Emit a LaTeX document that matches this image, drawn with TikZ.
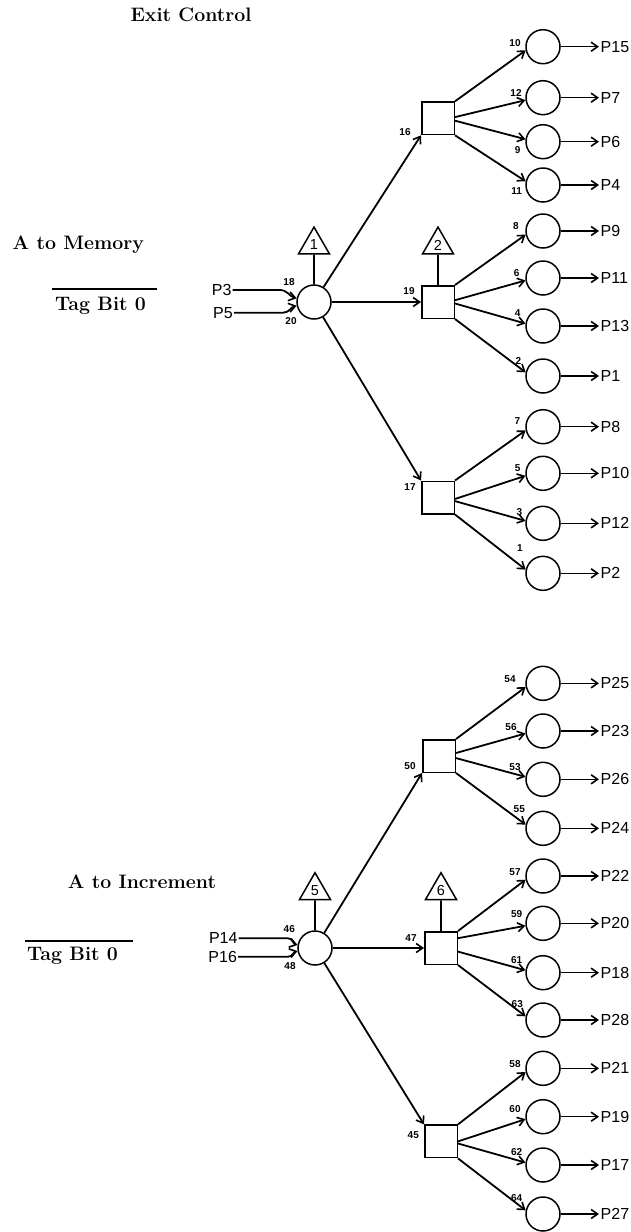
\documentclass[tikz,border=0pt]{standalone}
\usepackage{fontspec}
\newfontfamily\labfont{Liberation Sans}
\usetikzlibrary{arrows.meta,shapes.geometric,calc}
\tikzset{
 circ/.style={circle, draw, line width=1.5pt, minimum size=34pt, inner sep=0pt},
 sq/.style={rectangle, draw, line width=1.5pt, minimum size=32.5pt, inner sep=0pt},
 tri/.style={regular polygon, regular polygon sides=3, draw, line width=1.5pt, minimum size=35.8pt, inner sep=0pt, font=\labfont\fontsize{14.5}{14.5}\selectfont},
 plab/.style={font=\labfont\fontsize{16}{16}\selectfont, inner sep=1.5pt, anchor=west},
 inlab/.style={font=\labfont\fontsize{16}{16}\selectfont, inner sep=1pt},
 num/.style={font=\labfont\bfseries\fontsize{10}{10}\selectfont, inner sep=0pt},
 title/.style={font=\fontsize{19.5}{22}\selectfont\bfseries, inner sep=0pt},
 conn/.style={line width=1.8pt, -{Straight Barb[length=6.5pt,width=9pt,line width=1.6pt]}},
 outconn/.style={line width=1.5pt, -{Straight Barb[length=6.5pt,width=9pt,line width=1.6pt]}},
 plain/.style={line width=1.8pt},
}
\begin{document}
\begin{tikzpicture}[x=1pt,y=1pt]
\fill[white] (0,0) rectangle (630,-1232);
\useasboundingbox (0,0) rectangle (630,-1232);

% ---------- titles ----------
\node[title] (ec) at (191,-15) {Exit Control};
\node[title] (am) at (78.3,-245) {A to Memory};
\node[title] (tb1) at (100.5,-306) {Tag Bit 0};
\draw[line width=1.8pt] (52,-289) -- (157,-289);
\node[title] (ai) at (142,-881.7) {A to Increment};
\node[title] (tb2) at (72.5,-956) {Tag Bit 0};
\draw[line width=1.8pt] (25,-941) -- (133,-941);

% ---------- upper network ----------
\node[circ] (c1) at (314,-302) {};
\node[tri] (t1) at (314,-245) {1};
\draw[plain] (t1.south) -- (c1.north);
\node[sq] (s16) at (438,-118.3) {};
\node[sq] (s19) at (438,-302) {};
\node[sq] (s17) at (438,-497.5) {};
\node[tri] (t2) at (438,-245) {2};
\draw[plain] (t2.south) -- (s19.north);

\node[inlab] (p3) at (221.7,-290) {P3};
\node[inlab] (p5) at (223,-312.7) {P5};
\coordinate (k3) at (280,-290);
\coordinate (k5) at (283,-312.7);
\draw[conn] (p3.east) -- (k3) to[out=0,in=165] (c1.168);
\draw[conn] (p5.east) -- (k5) to[out=0,in=195] (c1.192);
\node[num] (n18) at (289,-281.7) {18};
\node[num] (n20) at (291,-321) {20};

\draw[conn] (c1) -- (s16.south west);
\draw[conn] (c1) -- (s19.west);
\draw[conn] (c1) -- (s17.north west);
\node[num] (n16) at (405,-131.7) {16};
\node[num] (n19) at (409,-290.7) {19};
\node[num] (n17) at (410,-487.3) {17};

\foreach \n/\y/\p/\lx/\ly in {10/46.7/P15/515/43.3, 12/97.7/P7/516/92.7, 9/141.7/P6/517.7/150, 11/185/P4/516.7/191,
  8/231/P9/516/226, 6/278/P11/516.7/272.7, 4/326/P13/517.7/312.7, 2/376/P1/518.3/361,
  7/426.7/P8/517.3/420.7, 5/473.3/P10/517.7/468.3, 3/523.3/P12/519.3/511.7, 1/573.3/P2/520/548.3}{
  \node[circ] (o\n) at (543,-\y) {};
  \node[plab] (q\n) at (599,-\y) {\p};
  \draw[outconn] (o\n) -- (q\n);
  \node[num] (l\n) at (\lx,-\ly) {\n};
}
\draw[conn] (s16.north east) -- (o10.192);
\draw[conn] (s16.4) -- (o12.188);
\draw[conn] (s16.-8) -- (o9.172);
\draw[conn] (s16.south east) -- (o11.168);
\draw[conn] (s19.north east) -- (o8.192);
\draw[conn] (s19.6) -- (o6.188);
\draw[conn] (s19.-5) -- (o4.172);
\draw[conn] (s19.south east) -- (o2.168);
\draw[conn] (s17.north east) -- (o7.192);
\draw[conn] (s17.-5) -- (o5.188);
\draw[conn] (s17.-12) -- (o3.172);
\draw[conn] (s17.south east) -- (o1.168);

% ---------- lower network ----------
\node[circ] (c5) at (315,-948) {};
\node[tri] (t5) at (315,-890.6) {5};
\draw[plain] (t5.south) -- (c5.north);
\node[sq] (s50) at (439,-756) {};
\node[sq] (s47) at (441,-948) {};
\node[sq] (s45) at (441,-1141.4) {};
\node[tri] (t6) at (441,-890.6) {6};
\draw[plain] (t6.south) -- (s47.north);

\node[inlab] (p14) at (223.3,-938.3) {P14};
\node[inlab] (p16) at (222.7,-956.7) {P16};
\coordinate (k14) at (288,-938.3);
\coordinate (k16) at (288,-956.7);
\draw[conn] (p14.east) -- (k14) to[out=0,in=165] (c5.170);
\draw[conn] (p16.east) -- (k16) to[out=0,in=195] (c5.190);
\node[num] (n46) at (289.3,-929.3) {46};
\node[num] (n48) at (290,-966) {48};

\draw[conn] (c5) -- (s50.south west);
\draw[conn] (c5) -- (s47.west);
\draw[conn] (c5) -- (s45.north west);
\node[num] (n50) at (410,-766) {50};
\node[num] (n47) at (411,-938.3) {47};
\node[num] (n45) at (413.3,-1135) {45};

\foreach \n/\y/\p/\lx/\ly in {54/683.3/P25/510/679.3, 56/731/P23/511/727.3, 53/779.3/P26/515/766.7, 55/828.3/P24/519.3/809.3,
  57/876/P22/515/871.7, 59/923.3/P20/516.7/914, 61/972.7/P18/516.7/960, 63/1020/P28/517.3/1004,
  58/1068.3/P21/515/1064, 60/1116.7/P19/515/1109.3, 62/1165/P17/516.7/1151.7, 64/1214/P27/516.7/1198.3}{
  \node[circ] (o\n) at (543,-\y) {};
  \node[plab] (q\n) at (599,-\y) {\p};
  \draw[outconn] (o\n) -- (q\n);
  \node[num] (l\n) at (\lx,-\ly) {\n};
}
\draw[conn] (s50.north east) -- (o54.192);
\draw[conn] (s50.10) -- (o56.188);
\draw[conn] (s50.-7) -- (o53.172);
\draw[conn] (s50.south east) -- (o55.168);
\draw[conn] (s47.north east) -- (o57.192);
\draw[conn] (s47.30) -- (o59.188);
\draw[conn] (s47.-12) -- (o61.172);
\draw[conn] (s47.south east) -- (o63.168);
\draw[conn] (s45.north east) -- (o58.192);
\draw[conn] (s45.0) -- (o60.188);
\draw[conn] (s45.-7) -- (o62.172);
\draw[conn] (s45.south east) -- (o64.168);
\end{tikzpicture}
\end{document}
